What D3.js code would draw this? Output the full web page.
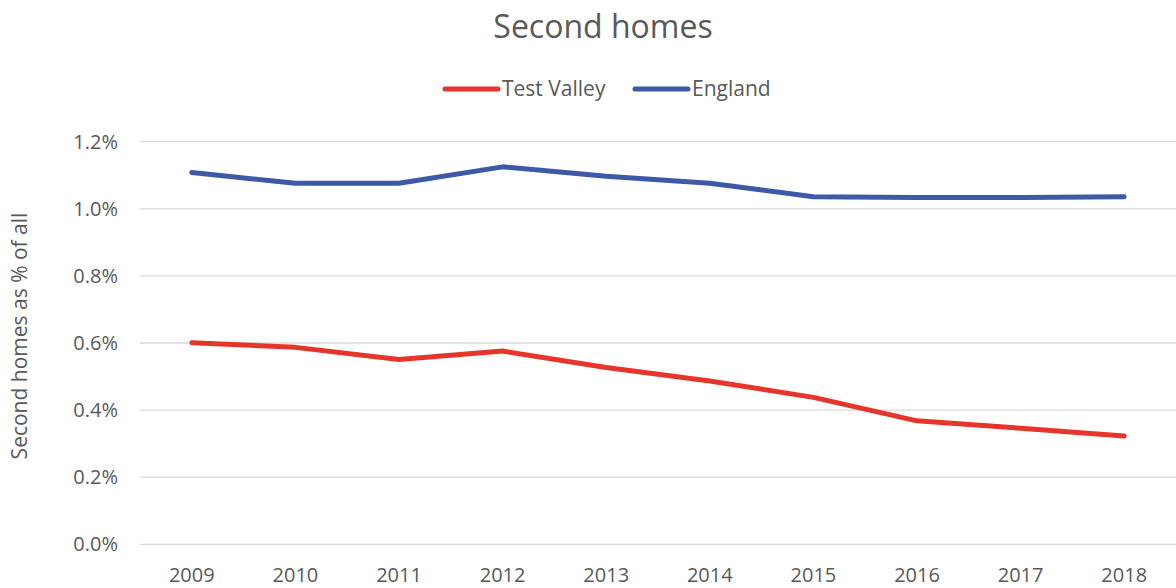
<!DOCTYPE html>
<html>
<head>
<meta charset="utf-8">
<script src="https://cdn.jsdelivr.net/npm/d3@7"></script>
<style>
  body { margin: 0; background: #fff; }
  svg text { font-family: "Open Sans", "Noto Sans", sans-serif; }
</style>
</head>
<body>
<div id="graph"></div>
<script>
// Données
const years = ["2009", "2010", "2011", "2012", "2013", "2014", "2015", "2016", "2017", "2018"];
const testValley = [0.601, 0.587, 0.551, 0.576, 0.527, 0.487, 0.438, 0.368, 0.346, 0.323];
const england = [1.108, 1.076, 1.076, 1.125, 1.097, 1.076, 1.036, 1.034, 1.034, 1.036];
const yTicks = [0, 0.2, 0.4, 0.6, 0.8, 1.0, 1.2];

const series = [
  { name: "Test Valley", values: testValley, color: "#E6352A" },
  { name: "England", values: england, color: "#3D59A7" }
];

const W = 1176, H = 588;
const margin = { top: 141.7, right: 0, bottom: 588 - 544.3, left: 140 };

const svg = d3.select("#graph")
  .append("svg")
  .attr("width", W)
  .attr("height", H);

const x = d3.scaleBand()
  .domain(years)
  .range([margin.left, W - margin.right]);

const y = d3.scaleLinear()
  .domain([0, 1.2])
  .range([H - margin.bottom, margin.top]);

// Grille
svg.append("g")
  .selectAll("line")
  .data(yTicks)
  .enter()
  .append("line")
  .attr("x1", margin.left)
  .attr("x2", W - margin.right)
  .attr("y1", d => y(d))
  .attr("y2", d => y(d))
  .attr("stroke", "#D9D9D9")
  .attr("stroke-width", 1.3);

// Axe Y
const yAxis = svg.append("g")
  .attr("transform", `translate(${margin.left},0)`)
  .call(d3.axisLeft(y).tickValues(yTicks).tickFormat(d => d.toFixed(1) + "%").tickSize(0).tickPadding(22));
yAxis.select(".domain").remove();
yAxis.selectAll("text")
  .attr("fill", "#595959")
  .style("font-size", "20px");

// Axe X
const xAxis = svg.append("g")
  .attr("transform", `translate(0,${H - margin.bottom})`)
  .call(d3.axisBottom(x).tickSize(0).tickPadding(24));
xAxis.select(".domain").remove();
xAxis.selectAll("text")
  .attr("fill", "#595959")
  .style("font-size", "20px");

// Titre de l'axe Y
svg.append("text")
  .attr("transform", "rotate(-90)")
  .attr("x", -336)
  .attr("y", 27)
  .attr("text-anchor", "middle")
  .attr("fill", "#595959")
  .style("font-size", "21px")
  .text("Second homes as % of all");

// Titre
svg.append("text")
  .attr("x", 603)
  .attr("y", 38)
  .attr("text-anchor", "middle")
  .attr("fill", "#595959")
  .style("font-size", "32px")
  .text("Second homes");

// Lignes
const line = d3.line()
  .x((d, i) => x(years[i]) + x.bandwidth() / 2)
  .y(d => y(d));

svg.selectAll(".series")
  .data(series)
  .enter()
  .append("path")
  .attr("class", "series")
  .attr("d", d => line(d.values))
  .attr("fill", "none")
  .attr("stroke", d => d.color)
  .attr("stroke-width", 5)
  .attr("stroke-linecap", "round")
  .attr("stroke-linejoin", "round");

// Légende
const legendPos = [443, 633];
const legend = svg.selectAll(".legend-item")
  .data(series)
  .enter()
  .append("g")
  .attr("class", "legend-item")
  .attr("transform", (d, i) => `translate(${legendPos[i]},89)`);

legend.append("line")
  .attr("x1", 2)
  .attr("x2", 55)
  .attr("stroke", d => d.color)
  .attr("stroke-width", 5)
  .attr("stroke-linecap", "round");

legend.append("text")
  .attr("x", 59)
  .attr("y", 7)
  .attr("fill", "#595959")
  .style("font-size", "21px")
  .text(d => d.name);
</script>
</body>
</html>
